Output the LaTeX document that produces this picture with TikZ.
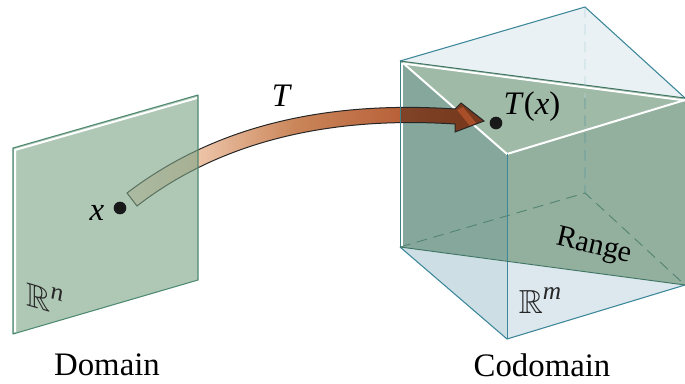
\documentclass[tikz,border=0pt]{standalone}
\usepackage{amsfonts}
\usepackage{fontspec}
\setmainfont{Liberation Serif}
\usetikzlibrary{calc}
\definecolor{domfill}{rgb}{0.48,0.64,0.52}
\definecolor{domedge}{HTML}{4F8A72}
\definecolor{cubeedge}{HTML}{3C8799}
\definecolor{planeedge}{HTML}{3F7563}
\definecolor{topblue}{HTML}{E9F1F4}
\definecolor{botleft}{HTML}{CDDEE5}
\definecolor{botright}{HTML}{DCE7EE}
\definecolor{planetop}{HTML}{A0BAA8}
\definecolor{planeleft}{HTML}{86A89C}
\definecolor{planeright}{HTML}{93B09F}
\definecolor{aone}{HTML}{F5DECC}
\definecolor{atwo}{HTML}{EDC4A8}
\definecolor{athree}{HTML}{C98458}
\definecolor{afour}{HTML}{B9623A}
\definecolor{afive}{HTML}{A84E28}
\pgfdeclarehorizontalshading{arrowshade}{100bp}{%
 color(0bp)=(aone);
 color(25bp)=(aone);
 color(35bp)=(atwo);
 color(49bp)=(athree);
 color(63bp)=(afour);
 color(75bp)=(afive);
 color(100bp)=(afive)}
\tikzset{
  x=0.75pt,y=-0.75pt,
  label text/.style={inner sep=0pt,font=\fontsize{24.6}{28}\selectfont},
  whiteline/.style={white,line width=1.5pt,line join=round},
  dotmark/.style={circle,fill=black!90,inner sep=0pt,minimum size=9.5pt},
  dashblue/.style={dashed,dash pattern=on 8pt off 5pt,line width=0.7pt},
}
\newcommand{\Rpow}[1]{$\mathbb{R}$\raisebox{.42em}{\fontsize{19}{21}\selectfont\itshape #1}}
\newcommand{\arrowpath}{(127,193) .. controls (190,145) and (290,98) .. (455,109)
  -- (461,103) -- (484,121) -- (455,132) -- (455,124)
  .. controls (300,114) and (200,157) .. (137,206) -- cycle}
\begin{document}
\begin{tikzpicture}
\useasboundingbox (0,0) rectangle (685,383);
\clip (0,0) rectangle (685,383);
\coordinate (A) at (400,61);
\coordinate (B) at (585,7);
\coordinate (C) at (685,98);
\coordinate (D) at (507,154);
\coordinate (E) at (400,247);
\coordinate (F) at (585,193);
\coordinate (G) at (685,285);
\coordinate (H) at (507,339);
\coordinate (I) at (507,261);
% cube: faces behind the arrow
\fill[topblue] (A) -- (B) -- (C) -- cycle;
\fill[botleft] (E) -- (H) -- (I) -- cycle;
\fill[botright] (I) -- (H) -- (G) -- cycle;
\fill[planetop] (A) -- (C) -- (D) -- cycle;
\fill[planeleft] (A) -- (D) -- (I) -- (E) -- cycle;
\fill[planeright] (D) -- (C) -- (G) -- (I) -- cycle;
% hidden edges
\draw[dashblue,cubeedge!35] (B) -- ($(B)!0.49!(F)$);
\draw[dashblue,cubeedge!60!planeright] ($(B)!0.49!(F)$) -- (F);
\draw[dashblue,planeedge!75!planeright] (E) -- (F) -- (G);
% plane highlight
\draw[whiteline] (402,63) -- (402,246);
\draw[whiteline] (403,63) -- (D) -- (685,100);
\draw[whiteline] (403,63.5) -- (685,100.5);
% arrow
\shade[shading=arrowshade] \arrowpath;
\begin{scope}
  \clip (400,0) rectangle (685,383);
  \fill[black,opacity=0.3] \arrowpath;
\end{scope}
\begin{scope}
  \clip \arrowpath;
  \fill[afive] (457,110) -- (463,107) -- (476,123) -- (470,126) -- cycle;
\end{scope}
\draw[black!85,line width=0.75pt,line join=miter] \arrowpath;
% cube edges
\draw[cubeedge,line width=0.8pt,line join=round] (E) -- (H) -- (G);
\draw[cubeedge,line width=0.8pt,line join=round] (A) -- (B) -- (C);
\draw[cubeedge,line width=0.7pt] (D) -- (H);
\draw[planeedge,line width=0.7pt] (A) -- (C);
\draw[planeedge,line width=0.7pt] (E) -- (G);
\draw[cubeedge!70!planeedge,line width=0.7pt] (A) -- (E);
% domain plane
\coordinate (P1) at (13,148);
\coordinate (P2) at (198,95);
\coordinate (P3) at (198,280);
\coordinate (P4) at (13,334);
\fill[domfill,opacity=0.6] (P1) -- (P2) -- (P3) -- (P4) -- cycle;
\draw[whiteline] (15,332) -- (15,150) -- (197,98);
\draw[domedge,line width=0.8pt,line join=round] (P1) -- (P2) -- (P3) -- (P4) -- cycle;
% points and labels
\node[dotmark] (px) at (120,208) {};
\node[dotmark] (py) at (496,123) {};
\node[label text] (lx) at (97,213) {\itshape x};
\node[label text] (lT) at (281,96) {\itshape T};
\node[label text] (lTx) at (532,107) {\itshape T\/\upshape(\itshape x\upshape)};
\node[label text] (ldom) at (107,365) {Domain};
\node[label text] (lcod) at (542,365) {Codomain};
\node[inner sep=0pt,rotate=-13,font=\fontsize{22.5}{26}\selectfont] (lrange) at (594,247) {Range};
\node[inner sep=0pt,font=\fontsize{25}{28}\selectfont,text=black!85] (lrm) at (540,301) {\Rpow{m}};
\node[inner sep=0pt,font=\fontsize{25}{28}\selectfont,text=black!85,yslant=-0.29] (lrn) at (45,298) {\Rpow{n}};
\end{tikzpicture}
\end{document}
